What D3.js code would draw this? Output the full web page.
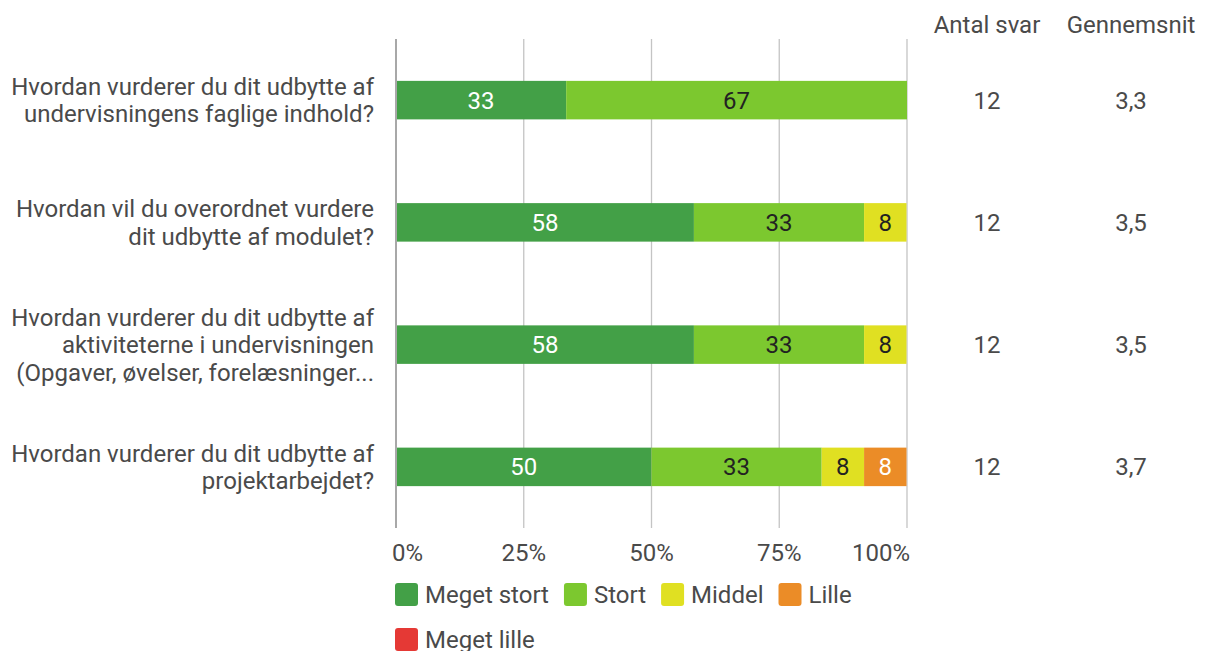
<!DOCTYPE html>
<html>
<head>
<meta charset="utf-8">
<script src="https://cdn.jsdelivr.net/npm/d3@7"></script>
<style>
  html, body { margin: 0; padding: 0; background: #fff; }
  svg { display: block; font-family: Roboto, "Noto Sans", sans-serif; }
</style>
</head>
<body>
<svg id="chart" width="1205" height="651"></svg>
<script>
// ---- data ----
const questions = [
  ["Hvordan vurderer du dit udbytte af", "undervisningens faglige indhold?"],
  ["Hvordan vil du overordnet vurdere", "dit udbytte af modulet?"],
  ["Hvordan vurderer du dit udbytte af", "aktiviteterne i undervisningen", "(Opgaver, øvelser, forelæsninger..."],
  ["Hvordan vurderer du dit udbytte af", "projektarbejdet?"]
];
const seriesNames = ["Meget stort", "Stort", "Middel", "Lille", "Meget lille"];
const megetStort = [33.3, 58.3, 58.3, 50.0];
const stort      = [66.7, 33.3, 33.3, 33.3];
const middel     = [0, 8.3, 8.3, 8.3];
const lille      = [0, 0, 0, 8.3];
const megetLille = [0, 0, 0, 0];
const antalSvar  = ["12", "12", "12", "12"];
const gennemsnit = ["3,3", "3,5", "3,5", "3,7"];
const xTicks = [0, 25, 50, 75, 100];
const colHeaders = ["Antal svar", "Gennemsnit"];

// ---- styles ----
const colors = ["#43a047", "#7cc82f", "#e0e022", "#eb8c27", "#e53935"];
const labelColors = ["#ffffff", "#222222", "#222222", "#ffffff", "#ffffff"];
const textColor = "#4a4a4a";

(function () {
const svg = d3.select("#chart");
const pLeft = 396, pRight = 907, pTop = 39, pBottom = 528;
const fs = 24;

const values = [megetStort, stort, middel, lille, megetLille];
const rows = questions.map((q, i) => {
  const r = { idx: i };
  seriesNames.forEach((s, k) => r[s] = values[k][i]);
  return r;
});

const x = d3.scaleLinear().domain([0, 100]).range([pLeft, pRight]);
const y = d3.scaleBand().domain(d3.range(questions.length)).range([pTop, pBottom]).paddingInner(0.685).paddingOuter(0.3425);

// gridlines
svg.append("g").selectAll("line").data(xTicks.slice(1)).join("line")
  .attr("x1", d => x(d)).attr("x2", d => x(d))
  .attr("y1", pTop).attr("y2", pBottom)
  .attr("stroke", "#c4c4c4").attr("stroke-width", 1.3);

// stacked bars
const stack = d3.stack().keys(seriesNames);
const stacked = stack(rows);
const groups = svg.append("g").selectAll("g").data(stacked).join("g")
  .attr("fill", (d, k) => colors[k]);
groups.selectAll("rect").data(d => d.filter(p => p[1] - p[0] > 0)).join("rect")
  .attr("x", d => x(d[0]))
  .attr("width", d => x(d[1]) - x(d[0]))
  .attr("y", d => y(d.data.idx))
  .attr("height", y.bandwidth());

// value labels
stacked.forEach((layer, k) => {
  svg.append("g").selectAll("text").data(layer.filter(p => p[1] - p[0] > 0)).join("text")
    .attr("x", d => (x(d[0]) + x(d[1])) / 2)
    .attr("y", d => y(d.data.idx) + y.bandwidth() / 2)
    .attr("dy", "0.35em")
    .attr("text-anchor", "middle")
    .attr("font-size", fs)
    .attr("fill", labelColors[k])
    .text(d => Math.round(d[1] - d[0]));
});

// baseline axis line
svg.append("line")
  .attr("x1", x(0)).attr("x2", x(0))
  .attr("y1", pTop).attr("y2", pBottom)
  .attr("stroke", "#a8a8a8").attr("stroke-width", 2);

// category labels
const lineH = 27.5;
const cat = svg.append("g").selectAll("text").data(questions).join("text")
  .attr("text-anchor", "end")
  .attr("font-size", fs)
  .attr("fill", textColor)
  .attr("transform", (d, i) => `translate(374,${y(i) + y.bandwidth() / 2})`);
cat.each(function(lines) {
  const t = d3.select(this);
  const n = lines.length;
  lines.forEach((ln, j) => {
    t.append("tspan").attr("x", 0)
      .attr("y", (j - (n - 1) / 2) * lineH)
      .attr("dy", "0.35em")
      .text(ln);
  });
});

// x tick labels
svg.append("g").selectAll("text").data(xTicks).join("text")
  .attr("x", (d, i) => i === 0 ? x(d) - 4 : (i === xTicks.length - 1 ? x(d) + 3 : x(d)))
  .attr("y", 561)
  .attr("text-anchor", (d, i) => i === 0 ? "start" : (i === xTicks.length - 1 ? "end" : "middle"))
  .attr("font-size", fs)
  .attr("fill", textColor)
  .text(d => d + "%");

// right-hand columns
const colX = [987, 1131];
svg.append("g").selectAll("text").data(colHeaders).join("text")
  .attr("x", (d, i) => colX[i]).attr("y", 33)
  .attr("text-anchor", "middle").attr("font-size", fs).attr("fill", textColor)
  .text(d => d);
[antalSvar, gennemsnit].forEach((col, c) => {
  svg.append("g").selectAll("text").data(col).join("text")
    .attr("x", colX[c])
    .attr("y", (d, i) => y(i) + y.bandwidth() / 2)
    .attr("dy", "0.35em")
    .attr("text-anchor", "middle").attr("font-size", fs).attr("fill", textColor)
    .text(d => d);
});

// legend (flow layout)
const legend = svg.append("g");
let lx = pLeft - 1, ly = 583;
const sq = 23, gapTxt = 7, gapItem = 15, rowH = 45, maxX = pRight + 3;
seriesNames.forEach((name, k) => {
  const g = legend.append("g");
  const txt = g.append("text").attr("font-size", fs).attr("fill", textColor).text(name);
  const w = txt.node().getComputedTextLength();
  const itemW = sq + gapTxt + w;
  if (lx + itemW > maxX && lx > pLeft) { lx = pLeft - 1; ly += rowH; }
  g.append("rect").attr("x", lx).attr("y", ly).attr("width", sq).attr("height", sq)
    .attr("rx", 3).attr("fill", colors[k]);
  txt.attr("x", lx + sq + gapTxt).attr("y", ly + 20);
  lx += itemW + gapItem;
});
})();
</script>
</body>
</html>
